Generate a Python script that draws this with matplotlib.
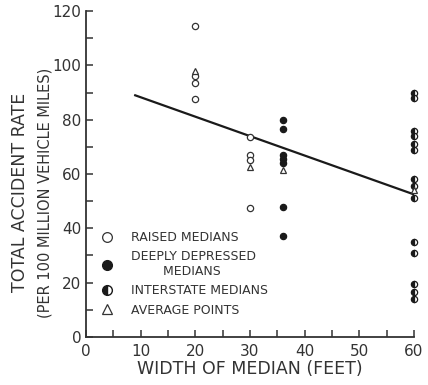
import matplotlib.pyplot as plt
from matplotlib.lines import Line2D

# raised medians (open circles)
raised_x = [20, 20, 20, 20, 30, 30, 30, 30]
raised_y = [114.5, 96, 93.5, 87.5, 73.5, 67, 65, 47.5]

# deeply depressed medians (filled)
deep_x = [36, 36, 36, 36, 36, 36, 36]
deep_y = [80, 76.5, 67, 65.5, 64, 48, 37]

# interstate medians (half filled)
inter_x = [60] * 14
inter_y = [90, 88, 76, 74, 71, 69, 58, 55.5, 51, 35, 31, 19.5, 16.5, 14]

# average points
avg_x = [20, 30, 36, 60]
avg_y = [98, 62.5, 61.5, 54]

# fitted line
line_x = [9, 60]
line_y = [89, 52.5]

fig = plt.figure(figsize=(4.28, 3.85), dpi=100)
ax = fig.add_axes([0.201, 0.125, 0.766, 0.846])

ax.plot(line_x, line_y, color='#1a1a1a', linewidth=1.6, zorder=2)

ms = 4.5
ax.plot(raised_x, raised_y, 'o', ms=ms, mfc='white', mec='#333333', mew=0.9,
        zorder=3, clip_on=False)
ax.plot(deep_x, deep_y, 'o', ms=ms, mfc='#1a1a1a', mec='#1a1a1a', mew=0.9,
        zorder=3, clip_on=False)
ax.plot(inter_x, inter_y, 'o', ms=ms, fillstyle='left', mfc='#1a1a1a', mfcalt='white',
        mec='#1a1a1a', mew=0.9, zorder=3, clip_on=False)
ax.plot(avg_x, avg_y, '^', ms=ms + 0.5, mfc='white', mec='#333333', mew=0.9,
        zorder=4, clip_on=False)

ax.set_xlim(0, 60)
ax.set_ylim(0, 120)
ax.spines['top'].set_visible(False)
ax.spines['right'].set_visible(False)
for s in ['left', 'bottom']:
    ax.spines[s].set_linewidth(1.3)
    ax.spines[s].set_color('#333333')

ax.set_xticks(range(0, 61, 10))
ax.set_xticks(range(5, 61, 10), minor=True)
ax.set_yticks(range(0, 121, 20))
ax.set_yticks(range(10, 121, 20), minor=True)
ax.tick_params(which='both', direction='in', length=5, width=1.1, color='#333333',
               labelsize=11, labelcolor='#333333')
ax.tick_params(axis='x', pad=5)

ax.set_xlabel('WIDTH OF MEDIAN (FEET)', fontsize=12.5, color='#333333', labelpad=1)
fig.text(0.047, 0.5, 'TOTAL ACCIDENT RATE', rotation=90, ha='center', va='center',
         fontsize=12.5, color='#333333')
fig.text(0.105, 0.5, '(PER 100 MILLION VEHICLE MILES)', rotation=90, ha='center',
         va='center', fontsize=10.5, color='#333333')

handles = [
    Line2D([], [], ls='none', marker='o', ms=7, mfc='white', mec='#333333', mew=0.9),
    Line2D([], [], ls='none', marker='o', ms=7, mfc='#1a1a1a', mec='#1a1a1a'),
    Line2D([], [], ls='none', marker='o', ms=7, fillstyle='left', mfc='#1a1a1a',
           mfcalt='white', mec='#1a1a1a'),
    Line2D([], [], ls='none', marker='^', ms=7, mfc='white', mec='#333333', mew=0.9),
]
labels = ['RAISED MEDIANS', 'DEEPLY DEPRESSED\n        MEDIANS', 'INTERSTATE MEDIANS',
          'AVERAGE POINTS']
leg = ax.legend(handles, labels, loc='lower left', bbox_to_anchor=(0.0, 0.035),
                frameon=False, fontsize=9, handletextpad=0.9, labelspacing=0.5,
                borderaxespad=0.3)
for t in leg.get_texts():
    t.set_color('#333333')

plt.savefig('out.png', dpi=100)
plt.close()
